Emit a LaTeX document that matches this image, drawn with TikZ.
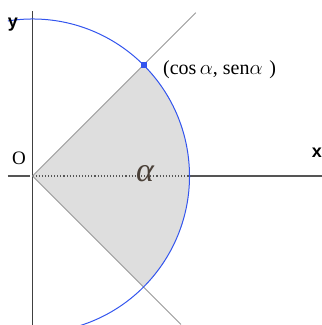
\documentclass[tikz,border=0pt]{standalone}
\usepackage{fontspec}
\setmainfont{Liberation Serif}
\newfontfamily\axisfont{Liberation Sans}
\usetikzlibrary{calc}
\definecolor{circblue}{HTML}{3355EE}
\definecolor{sectgray}{HTML}{DEDEDE}
\definecolor{axisgray}{HTML}{555555}
\definecolor{raygray}{HTML}{999999}
\definecolor{alphacol}{HTML}{4A4038}
\tikzset{
  axisline/.style={draw=axisgray, line width=1.1pt},
  rayline/.style={draw=raygray, line width=0.8pt},
  circline/.style={draw=circblue, line width=1pt},
  axislabel/.style={font=\axisfont\bfseries\fontsize{18}{18}\selectfont, inner sep=0pt},
}
\begin{document}
\begin{tikzpicture}[x=1pt,y=1pt]
\useasboundingbox (0,0) rectangle (322,325);
\clip (0,0) rectangle (322,325);
\coordinate (O) at (32.5,149);
% sector
\fill[sectgray] (O) -- ++(-45:157) arc[start angle=-45, end angle=45, radius=157] -- cycle;
% axes
\coordinate (xl) at (8,149);
\coordinate (xlg) at (30,149);
\coordinate (xe) at (189.5,149);
\coordinate (xr) at (322,149);
\coordinate (yt) at (32.5,314);
\coordinate (yb) at (32.5,0);
\draw[axisline] (xl) -- (xlg);
\draw[draw=axisgray, line width=1.1pt, dotted] (O) -- (xe);
\draw[axisline] (xe) -- (xr);
\draw[draw=black!75, line width=0.8pt] (yt) -- (yb);
% rays
\coordinate (rt) at ($(O)+(45:231)$);
\coordinate (rb) at ($(O)+(-45:210)$);
\draw[rayline] (O) -- (rt);
\draw[rayline] (O) -- (rb);
% circle
\coordinate (cs) at ($(O)+(99:157)$);
\draw[circline] (cs) arc[start angle=99, end angle=-74, radius=157];
% point
\coordinate (P) at ($(O)+(45:157)$);
\node[fill=circblue, minimum size=6pt, inner sep=0pt] (Pm) at (P) {};
% labels
\node[axislabel] (ylab) at (13,300) {y};
\node[axislabel] (xlab) at (317,172) {x};
\node[font=\fontsize{19}{19}\selectfont, inner sep=0pt] (olab) at (19,167) {O};
\node[text=alphacol, font=\itshape\fontsize{34}{34}\selectfont, inner sep=0pt] (alab) at (145,151) {α};
\node[font=\fontsize{20}{20}\selectfont, inner sep=0pt, anchor=west] (plab) at (163,255) {(cos\,$\alpha$, sen$\alpha$\,\,)};
\end{tikzpicture}
\end{document}
